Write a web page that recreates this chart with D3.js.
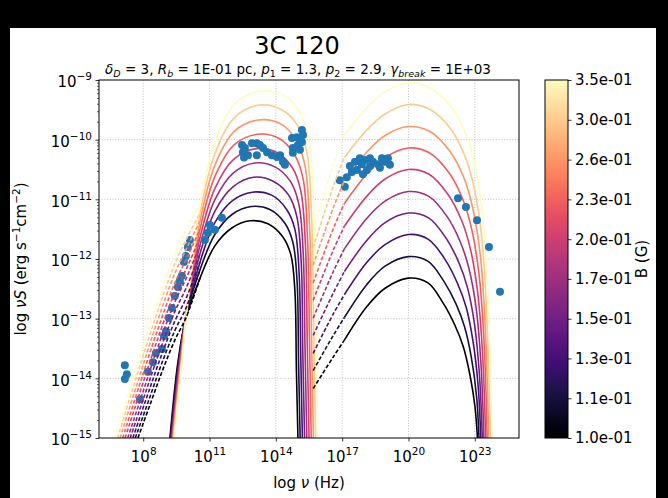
<!DOCTYPE html>
<html><head><meta charset="utf-8">
<script src="https://cdn.jsdelivr.net/npm/d3@7"></script>
<style>
html,body{margin:0;padding:0;background:#000;}
svg{display:block;font-family:"DejaVu Sans",sans-serif;}
</style></head><body>
<svg id="chart" width="668" height="498"></svg>
<script>
// Magnetic field strengths (G); one model curve per value
const fieldB = [0.1, 0.1149, 0.1321, 0.1518, 0.1745, 0.2005, 0.2305, 0.2649, 0.3045, 0.35];

// Synchrotron bump with self-absorption, [log10 nu, log10 nuS]
const syncAbsorbed = [
  [[9.21,-15],[9.57,-13.73],[9.93,-12.99],[10.57,-12.32],[11.24,-11.78],[12.01,-11.48],[12.83,-11.36],[13.64,-11.41],[14.32,-11.63],[14.68,-11.93],[14.86,-12.52],[14.93,-13.86],[15.00,-15]],
  [[9.23,-15],[9.59,-13.74],[9.94,-12.96],[10.57,-12.18],[11.24,-11.59],[12.03,-11.25],[12.89,-11.12],[13.73,-11.17],[14.41,-11.40],[14.77,-11.72],[14.96,-12.37],[15.03,-13.77],[15.10,-15]],
  [[9.25,-15],[9.60,-13.76],[9.95,-12.92],[10.57,-12.05],[11.24,-11.39],[12.04,-11.02],[12.94,-10.88],[13.81,-10.93],[14.49,-11.17],[14.86,-11.50],[15.05,-12.22],[15.13,-13.67],[15.20,-15]],
  [[9.27,-15],[9.62,-13.77],[9.96,-12.89],[10.57,-11.91],[11.24,-11.20],[12.06,-10.79],[13.00,-10.63],[13.90,-10.70],[14.58,-10.93],[14.95,-11.29],[15.15,-12.07],[15.22,-13.58],[15.30,-15]],
  [[9.29,-15],[9.63,-13.79],[9.97,-12.86],[10.57,-11.77],[11.24,-11.01],[12.07,-10.56],[13.05,-10.39],[13.98,-10.46],[14.66,-10.70],[15.04,-11.08],[15.24,-11.92],[15.32,-13.49],[15.40,-15]],
  [[9.31,-15],[9.65,-13.80],[9.98,-12.83],[10.57,-11.64],[11.24,-10.82],[12.09,-10.33],[13.11,-10.15],[14.07,-10.22],[14.75,-10.47],[15.13,-10.86],[15.34,-11.78],[15.42,-13.40],[15.50,-15]],
  [[9.33,-15],[9.66,-13.82],[9.99,-12.79],[10.57,-11.50],[11.24,-10.62],[12.10,-10.09],[13.16,-9.91],[14.15,-9.98],[14.83,-10.24],[15.23,-10.65],[15.43,-11.63],[15.52,-13.30],[15.60,-15]],
  [[9.35,-15],[9.68,-13.83],[10.00,-12.76],[10.57,-11.36],[11.24,-10.43],[12.12,-9.86],[13.22,-9.67],[14.24,-9.74],[14.92,-10.01],[15.32,-10.44],[15.53,-11.48],[15.61,-13.21],[15.70,-15]],
  [[9.37,-15],[9.70,-13.85],[10.01,-12.73],[10.57,-11.23],[11.24,-10.24],[12.13,-9.63],[13.27,-9.42],[14.32,-9.51],[15.00,-9.77],[15.41,-10.22],[15.62,-11.33],[15.71,-13.11],[15.80,-15]],
  [[9.39,-15],[9.71,-13.86],[10.02,-12.69],[10.57,-11.09],[11.24,-10.04],[12.15,-9.40],[13.33,-9.18],[14.41,-9.27],[15.09,-9.54],[15.50,-10.01],[15.72,-11.18],[15.81,-13.02],[15.90,-15]]
];

// Optically thin low-frequency extension of the synchrotron bump
const syncThin = [
  [[7.76,-15],[8.30,-14.45],[8.85,-13.89],[9.43,-13.36],[9.93,-12.99],[10.57,-12.32]],
  [[7.64,-15],[8.22,-14.40],[8.80,-13.79],[9.43,-13.20],[9.94,-12.82],[10.57,-12.18]],
  [[7.53,-15],[8.13,-14.35],[8.75,-13.69],[9.42,-13.05],[9.95,-12.65],[10.57,-12.05]],
  [[7.41,-15],[8.05,-14.30],[8.70,-13.59],[9.42,-12.89],[9.95,-12.48],[10.57,-11.91]],
  [[7.30,-15],[7.97,-14.25],[8.65,-13.49],[9.42,-12.73],[9.96,-12.31],[10.57,-11.77]],
  [[7.18,-15],[7.88,-14.20],[8.60,-13.40],[9.41,-12.58],[9.97,-12.15],[10.57,-11.64]],
  [[7.07,-15],[7.80,-14.15],[8.55,-13.30],[9.41,-12.42],[9.98,-11.98],[10.57,-11.50]],
  [[6.95,-15],[7.72,-14.10],[8.50,-13.20],[9.41,-12.26],[9.98,-11.81],[10.57,-11.36]],
  [[6.84,-15],[7.63,-14.05],[8.45,-13.10],[9.40,-12.11],[9.99,-11.64],[10.57,-11.23]],
  [[6.72,-15],[7.55,-14.00],[8.40,-13.00],[9.40,-11.95],[10.00,-11.47],[10.57,-11.09]]
];

// Inverse-Compton bump, [log10 nu, log10 nuS]
const icModel = [
  [[15.69,-14.17],[16.60,-13.64],[17.10,-13.36],[18.11,-12.80],[18.94,-12.49],[19.99,-12.32],[20.88,-12.40],[21.57,-12.74],[22.10,-13.11],[22.48,-13.47],[22.78,-13.94],[23.01,-14.48],[23.12,-15]],
  [[15.69,-13.87],[16.60,-13.28],[17.10,-12.98],[18.11,-12.43],[18.94,-12.12],[19.99,-11.96],[20.89,-12.04],[21.61,-12.38],[22.16,-12.76],[22.54,-13.14],[22.85,-13.66],[23.08,-14.30],[23.19,-15]],
  [[15.69,-13.58],[16.60,-12.92],[17.10,-12.60],[18.11,-12.06],[18.94,-11.76],[19.99,-11.59],[20.90,-11.67],[21.66,-12.01],[22.22,-12.41],[22.61,-12.81],[22.92,-13.38],[23.15,-14.12],[23.27,-15]],
  [[15.69,-13.28],[16.60,-12.57],[17.10,-12.21],[18.11,-11.69],[18.94,-11.39],[19.99,-11.23],[20.91,-11.31],[21.70,-11.65],[22.28,-12.06],[22.67,-12.48],[22.99,-13.10],[23.21,-13.94],[23.34,-15]],
  [[15.69,-12.99],[16.60,-12.21],[17.10,-11.83],[18.11,-11.32],[18.94,-11.03],[19.99,-10.87],[20.92,-10.95],[21.75,-11.29],[22.34,-11.71],[22.73,-12.15],[23.06,-12.82],[23.28,-13.76],[23.41,-15]],
  [[15.69,-12.69],[16.60,-11.85],[17.10,-11.45],[18.11,-10.95],[18.94,-10.66],[19.99,-10.50],[20.93,-10.58],[21.79,-10.92],[22.41,-11.36],[22.80,-11.83],[23.12,-12.53],[23.35,-13.57],[23.49,-15]],
  [[15.69,-12.40],[16.60,-11.49],[17.10,-11.07],[18.11,-10.58],[18.94,-10.30],[19.99,-10.14],[20.94,-10.22],[21.84,-10.56],[22.47,-11.01],[22.86,-11.50],[23.19,-12.25],[23.42,-13.39],[23.56,-15]],
  [[15.69,-12.10],[16.60,-11.14],[17.10,-10.69],[18.11,-10.21],[18.94,-9.93],[19.99,-9.78],[20.95,-9.86],[21.88,-10.20],[22.53,-10.66],[22.92,-11.17],[23.26,-11.97],[23.48,-13.21],[23.63,-15]],
  [[15.69,-11.81],[16.60,-10.78],[17.10,-10.30],[18.11,-9.84],[18.94,-9.57],[19.99,-9.41],[20.96,-9.49],[21.93,-9.83],[22.59,-10.31],[22.99,-10.84],[23.33,-11.69],[23.55,-13.03],[23.71,-15]],
  [[15.69,-11.51],[16.60,-10.42],[17.10,-9.92],[18.11,-9.47],[18.94,-9.20],[19.99,-9.05],[20.97,-9.13],[21.97,-9.47],[22.65,-9.96],[23.05,-10.51],[23.40,-11.41],[23.62,-12.85],[23.78,-15]]
];
// IC model is drawn dashed below this frequency (log10 Hz)
const icDashEnd = 17.10;

// Observed SED of 3C 120, [log10 nu, log10 nuS]
const observed = [
  [7.17,-13.78],[7.26,-13.93],[7.17,-14.01],[7.85,-14.35],[8.21,-13.89],[8.44,-13.73],[8.57,-13.58],
  [8.85,-13.51],[8.94,-13.29],[9.03,-13.21],[9.16,-12.99],[9.30,-12.82],[9.43,-12.62],[9.57,-12.47],
  [9.66,-12.37],[9.75,-12.28],[9.84,-12.05],[9.93,-11.95],[10.02,-11.80],[10.11,-11.68],[10.79,-11.68],
  [10.93,-11.56],[11.02,-11.43],[11.24,-11.51],[11.56,-11.31],
  [12.47,-10.09],[12.60,-10.14],[12.92,-10.06],[13.14,-10.06],[13.28,-10.09],[13.42,-10.14],[12.51,-10.21],
  [12.74,-10.26],[13.14,-10.26],[13.60,-10.21],[13.82,-10.26],[14.05,-10.29],[14.19,-10.26],[14.32,-10.37],
  [14.41,-10.42],[12.56,-10.30],
  [14.73,-9.97],[14.77,-10.14],[14.95,-9.96],[15.00,-10.09],[15.18,-9.84],[15.23,-9.92],[15.18,-10.04],
  [15.09,-10.17],[14.77,-10.22],
  [16.89,-10.68],[17.12,-10.79],[17.21,-10.63],[17.35,-10.44],[17.44,-10.54],[17.58,-10.37],[17.67,-10.51],
  [17.80,-10.31],[17.89,-10.41],[17.94,-10.58],[18.03,-10.34],[18.12,-10.51],[18.26,-10.31],[18.26,-10.44],
  [18.39,-10.37],[18.62,-10.41],[18.80,-10.31],[18.93,-10.37],[19.07,-10.31],[19.16,-10.42],[18.71,-10.47],
  [22.24,-10.98],[22.60,-11.13],[23.10,-11.35],[23.64,-11.80],[24.14,-12.55]
];

const xTickExp = [8, 11, 14, 17, 20, 23];
const yTickExp = [-15, -14, -13, -12, -11, -10, -9];

const svg = d3.select("#chart");
svg.append("rect").attr("x", 10).attr("y", 28).attr("width", 646).attr("height", 470).attr("fill", "#fff");

const L = 99, R = 519, T = 80, B = 438;
const x = d3.scaleLog().domain([1e6, 1e25]).range([L, R]);
const y = d3.scaleLog().domain([1e-15, 1e-9]).range([B, T]);
const color = d3.scaleLog().domain([fieldB[0], fieldB[fieldB.length - 1]]).range([0, 1]);
const colorOf = b => d3.interpolateMagma(color(b));

svg.append("defs").append("clipPath").attr("id", "plotclip")
  .append("rect").attr("x", L).attr("y", T).attr("width", R - L).attr("height", B - T);

// grid
const grid = svg.append("g").attr("stroke", "#b0b0b0").attr("stroke-width", 0.8).attr("stroke-dasharray", "1,1.7");
xTickExp.forEach(e => grid.append("line").attr("x1", x(10 ** e)).attr("x2", x(10 ** e)).attr("y1", T).attr("y2", B));
yTickExp.slice(1, -1).forEach(e => grid.append("line").attr("x1", L).attr("x2", R).attr("y1", y(10 ** e)).attr("y2", y(10 ** e)));

const line = d3.line().x(d => x(10 ** d[0])).y(d => y(10 ** d[1])).curve(d3.curveCatmullRom.alpha(0.5));
const plot = svg.append("g").attr("clip-path", "url(#plotclip)").attr("fill", "none");

// solid model curves
fieldB.forEach((b, i) => {
  plot.append("path").attr("d", line(syncAbsorbed[i])).attr("stroke", colorOf(b)).attr("stroke-width", 1.6);
  plot.append("path").attr("d", line(icModel[i].filter(d => d[0] >= icDashEnd))).attr("stroke", colorOf(b)).attr("stroke-width", 1.6);
});

// observations
plot.append("g").selectAll("circle").data(observed).join("circle")
  .attr("cx", d => x(10 ** d[0])).attr("cy", d => y(10 ** d[1])).attr("r", 4).attr("fill", "#1f77b4");

// dashed model extensions
fieldB.forEach((b, i) => {
  plot.append("path").attr("d", line(syncThin[i])).attr("stroke", colorOf(b)).attr("stroke-width", 1.6).attr("stroke-dasharray", "4,2");
  plot.append("path").attr("d", line(icModel[i].filter(d => d[0] <= icDashEnd))).attr("stroke", colorOf(b)).attr("stroke-width", 1.6).attr("stroke-dasharray", "4,2");
});

// frame
svg.append("rect").attr("x", L).attr("y", T).attr("width", R - L).attr("height", B - T)
  .attr("fill", "none").attr("stroke", "#000").attr("stroke-width", 1);

function powerLabel(sel, exp) {
  sel.text(null);
  sel.append("tspan").text("10");
  sel.append("tspan").attr("dy", -7).attr("font-size", "10.5px").text(String(exp).replace("-", "\u2212"));
}

// x axis
const gx = svg.append("g").attr("transform", `translate(0,${B})`)
  .call(d3.axisBottom(x).tickValues(xTickExp.map(e => 10 ** e)).tickSize(3.5).tickPadding(3.5).tickSizeOuter(0));
gx.select(".domain").remove();
gx.selectAll(".tick line").attr("stroke-width", 0.8);
gx.selectAll(".tick text").attr("font-size", "15px").attr("font-family", "DejaVu Sans").attr("dy", "1.1em")
  .each(function (d) { powerLabel(d3.select(this), Math.round(Math.log10(d))); });

// y axis, major and minor ticks
const yMinor = [];
for (let e = -15; e < -9; e++) for (let m = 2; m <= 9; m++) yMinor.push(m * 10 ** e);
const gyMinor = svg.append("g").attr("transform", `translate(${L},0)`)
  .call(d3.axisLeft(y).tickValues(yMinor).tickSize(2).tickFormat(""));
gyMinor.select(".domain").remove();
gyMinor.selectAll(".tick line").attr("stroke-width", 0.6);
const gy = svg.append("g").attr("transform", `translate(${L},0)`)
  .call(d3.axisLeft(y).tickValues(yTickExp.map(e => 10 ** e)).tickSize(3.5).tickPadding(3.5));
gy.select(".domain").remove();
gy.selectAll(".tick line").attr("stroke-width", 0.8);
gy.selectAll(".tick text").attr("font-size", "15px").attr("font-family", "DejaVu Sans").attr("dy", "0.45em")
  .each(function (d) { powerLabel(d3.select(this), Math.round(Math.log10(d))); });

// axis titles
const xl = svg.append("text").attr("x", (L + R) / 2).attr("y", 488).attr("text-anchor", "middle").attr("font-size", "15px");
xl.append("tspan").text("log ");
xl.append("tspan").attr("font-style", "italic").text("\u03bd");
xl.append("tspan").text(" (Hz)");

const yl = svg.append("text").attr("transform", `translate(26,${(T + B) / 2}) rotate(-90)`).attr("text-anchor", "middle").attr("font-size", "15px");
yl.append("tspan").text("log ");
yl.append("tspan").attr("font-style", "italic").text("\u03bdS");
yl.append("tspan").text(" (erg s");
yl.append("tspan").attr("dy", -6).attr("font-size", "10.5px").text("\u22121");
yl.append("tspan").attr("dy", 6).text("cm");
yl.append("tspan").attr("dy", -6).attr("font-size", "10.5px").text("\u22122");
yl.append("tspan").attr("dy", 6).text(")");

// titles
svg.append("text").attr("x", 297).attr("y", 54).attr("text-anchor", "middle").attr("font-size", "24px").text("3C 120");
const subtitle = [
  ["\u03b4", "i"], ["D", "is"], [" = 3, ", ""], ["R", "i"], ["b", "is"], [" = 1E-01 pc, ", ""],
  ["p", "i"], ["1", "s"], [" = 1.3, ", ""], ["p", "i"], ["2", "s"], [" = 2.9, ", ""],
  ["\u03b3", "i"], ["break", "is"], [" = 1E+03", ""]
];
const st = svg.append("text").attr("x", 298).attr("y", 74).attr("text-anchor", "middle").attr("font-size", "13.5px");
let shifted = false;
subtitle.forEach(([t, f]) => {
  const sub = f.includes("s");
  const ts = st.append("tspan").text(t);
  if (f.includes("i")) ts.attr("font-style", "italic");
  if (sub && !shifted) { ts.attr("dy", 3); shifted = true; }
  if (!sub && shifted) { ts.attr("dy", -3); shifted = false; }
  if (sub) ts.attr("font-size", "9.5px");
});

// colorbar
const cbX = 545, cbW = 23;
const cbScale = d3.scaleLog().domain([fieldB[0], fieldB[fieldB.length - 1]]).range([B, T]);
const grad = svg.select("defs").append("linearGradient").attr("id", "cbgrad")
  .attr("x1", 0).attr("y1", 1).attr("x2", 0).attr("y2", 0);
d3.range(0, 1.0001, 0.02).forEach(t => grad.append("stop").attr("offset", t).attr("stop-color", d3.interpolateMagma(t)));
svg.append("rect").attr("x", cbX).attr("y", T).attr("width", cbW).attr("height", B - T)
  .attr("fill", "url(#cbgrad)").attr("stroke", "#000").attr("stroke-width", 1);
const fmtB = v => v.toExponential(1).replace(/e([+-])(\d)$/, "e$10$2");
const gc = svg.append("g").attr("transform", `translate(${cbX + cbW},0)`)
  .call(d3.axisRight(cbScale).tickValues(fieldB).tickSize(3.5).tickPadding(3.5).tickFormat(fmtB));
gc.select(".domain").remove();
gc.selectAll(".tick line").attr("stroke-width", 0.8);
gc.selectAll(".tick text").attr("font-size", "15px").attr("font-family", "DejaVu Sans");
svg.append("text").attr("transform", `translate(647,${(T + B) / 2}) rotate(-90)`).attr("text-anchor", "middle")
  .attr("font-size", "15px").text("B (G)");
</script>
</body></html>
